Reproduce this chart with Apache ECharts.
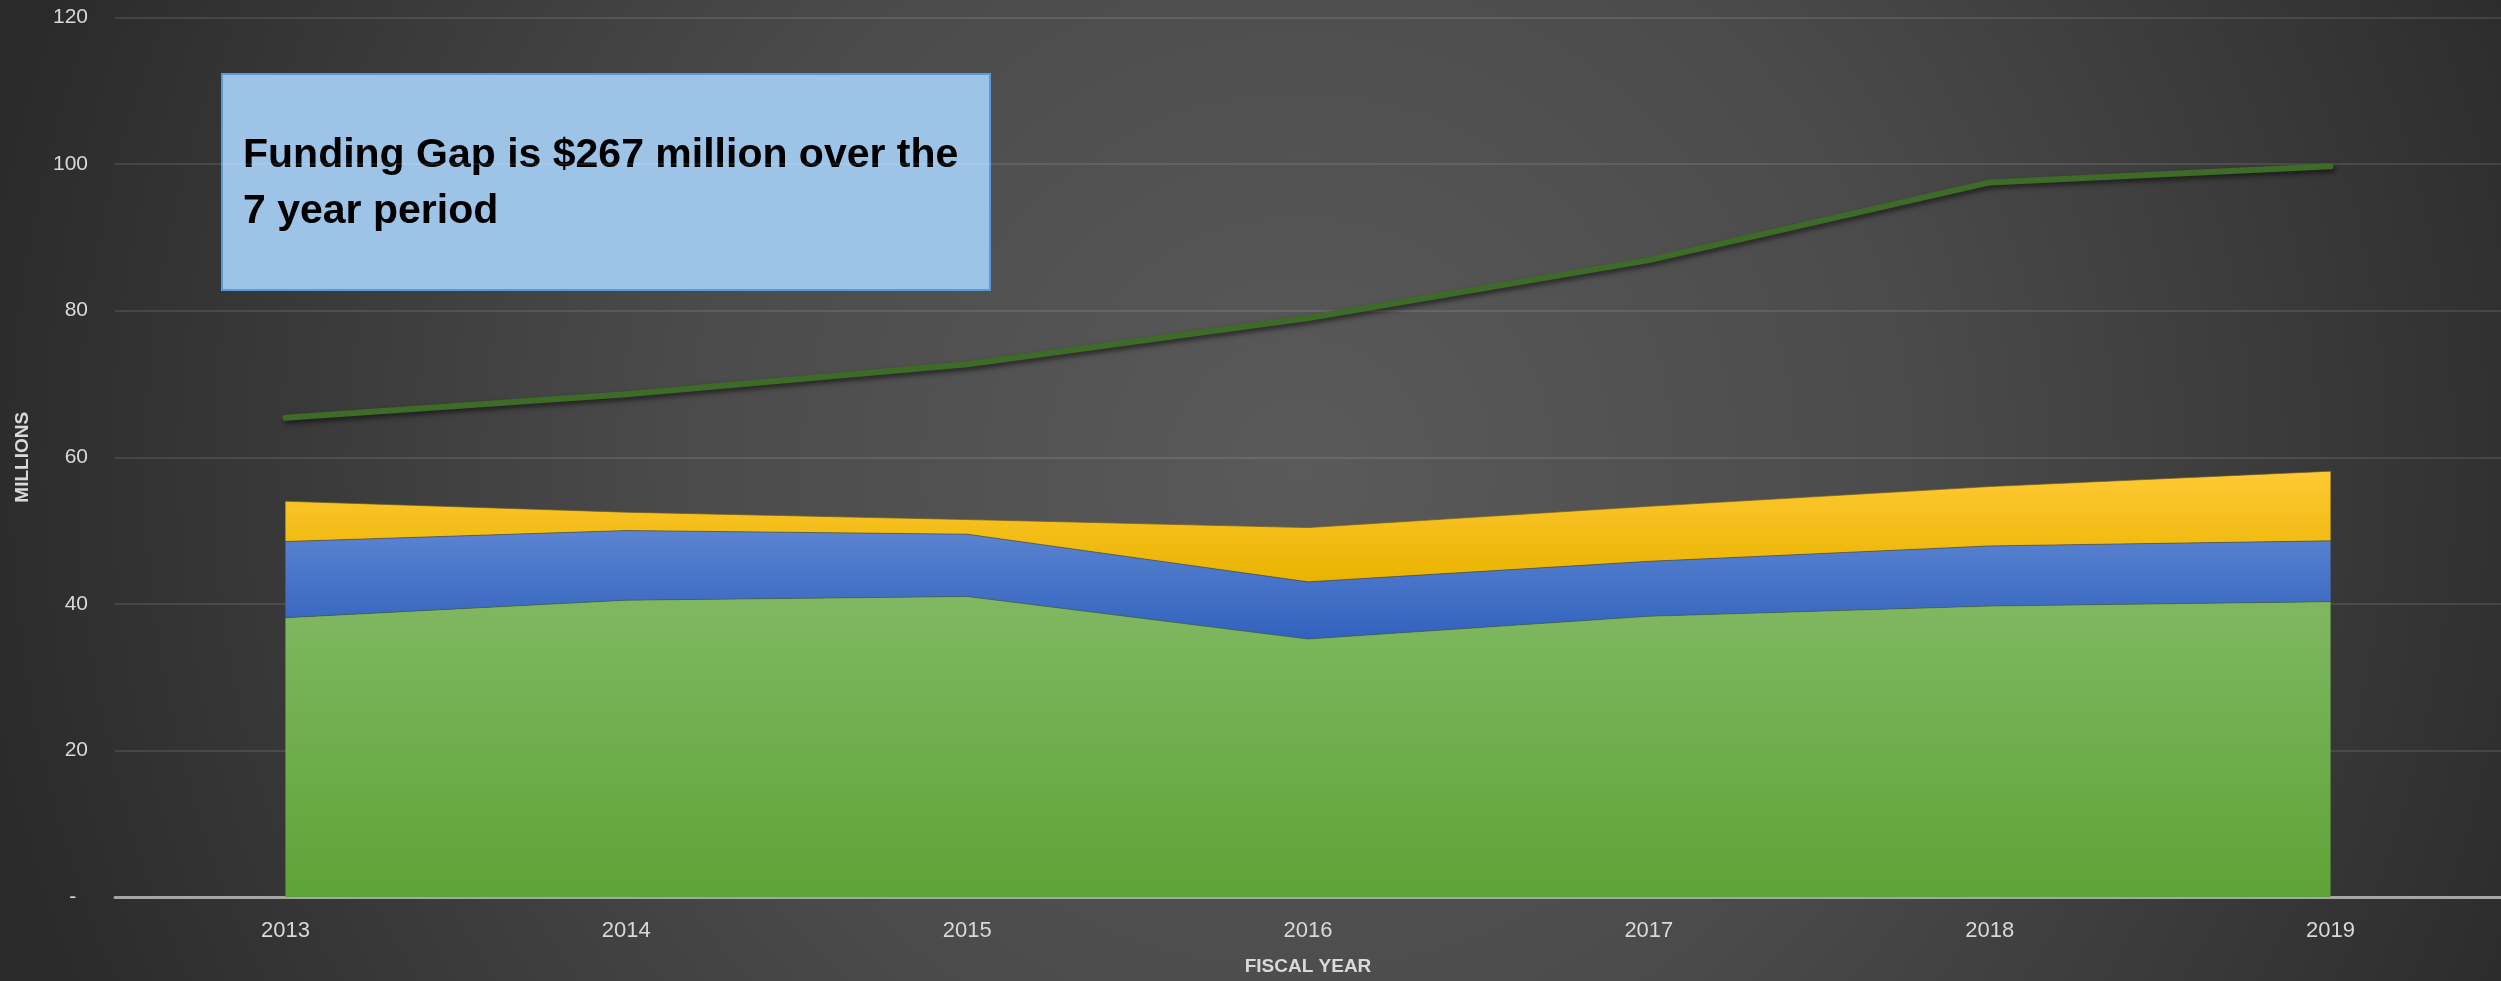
<!DOCTYPE html>
<html>
<head>
<meta charset="utf-8">
<script src="https://cdn.jsdelivr.net/npm/echarts@6/dist/echarts.min.js"></script>
<style>
html,body{margin:0;padding:0;background:#2b2b2b;}
#c{width:2501px;height:981px;}
</style>
</head>
<body>
<div id="c"></div>
<script>
var years = ['2013','2014','2015','2016','2017','2018','2019'];
var sourceGreen = [38.1, 40.5, 41.0, 35.2, 38.3, 39.7, 40.3];
var sourceBlue = [10.4, 9.5, 8.5, 7.8, 7.5, 8.2, 8.3];
var sourceYellow = [5.5, 2.5, 2.0, 7.4, 7.5, 8.1, 9.5];
var need = [65.4, 68.6, 72.7, 79.0, 86.9, 97.5, 99.7];
var yTicks = {min: 0, max: 120, interval: 20};
var boxText = 'Funding Gap is $267 million over the\n7 year period';

var chart = echarts.init(document.getElementById('c'), null, {renderer: 'canvas'});

function vgrad(top, bottom) {
  return new echarts.graphic.LinearGradient(0, 0, 0, 1, [
    {offset: 0, color: top}, {offset: 1, color: bottom}
  ]);
}

var labelColor = '#d9d9d9';
var font = '"Liberation Sans", Arial, sans-serif';

chart.setOption({
  animation: false,
  backgroundColor: '#2b2b2b',
  graphic: [
    {
      type: 'rect', z: -100, silent: true,
      shape: {x: 0, y: 0, width: 2501, height: 981},
      style: {
        fill: new echarts.graphic.RadialGradient(1300, 470, 1350, [
          {offset: 0, color: '#5a5a5a'},
          {offset: 0.45, color: '#4b4b4b'},
          {offset: 1, color: '#2a2a2a'}
        ], true)
      }
    },
    {
      type: 'group', z: 100,
      children: [
        {
          type: 'rect',
          shape: {x: 222, y: 74, width: 768, height: 216},
          style: {fill: '#9dc3e6', stroke: '#5b9bd5', lineWidth: 2}
        },
        {
          type: 'text',
          x: 243, y: 128,
          style: {
            text: boxText,
            fill: '#000000',
            font: 'bold 41px "Liberation Sans", Arial, sans-serif',
            lineHeight: 56,
            verticalAlign: 'top',
            align: 'left'
          }
        }
      ]
    }
  ],
  grid: {left: 115, top: 17.5, width: 2389, height: 883, containLabel: false},
  xAxis: {
    type: 'category',
    data: years,
    boundaryGap: true,
    name: 'FISCAL YEAR',
    nameLocation: 'middle',
    nameGap: 60,
    nameTextStyle: {color: labelColor, fontSize: 19, fontWeight: 'bold', fontFamily: font},
    axisLine: {show: true, lineStyle: {color: '#a6a6a6', width: 3}},
    axisTick: {show: false},
    axisLabel: {color: labelColor, fontSize: 22, fontFamily: font, margin: 23},
    splitLine: {show: false}
  },
  yAxis: {
    type: 'value',
    min: yTicks.min, max: yTicks.max, interval: yTicks.interval,
    name: 'MILLIONS',
    nameLocation: 'middle',
    nameGap: 83,
    nameTextStyle: {color: labelColor, fontSize: 19, fontWeight: 'bold', fontFamily: font},
    axisLine: {show: false},
    axisTick: {show: false},
    axisLabel: {
      color: labelColor, fontSize: 21, fontFamily: font, margin: 27,
      formatter: function (v) { return v === 0 ? '-  ' : String(v); }
    },
    splitLine: {show: true, lineStyle: {color: 'rgba(255,255,255,0.1)', width: 2}}
  },
  series: [
    {
      name: 'Source A', type: 'line', stack: 'total', data: sourceGreen,
      symbol: 'none', smooth: false,
      lineStyle: {width: 1, color: 'rgba(70,90,50,0.6)'},
      areaStyle: {opacity: 1, color: vgrad('#80b862', '#5ea337')},
      z: 2
    },
    {
      name: 'Source B', type: 'line', stack: 'total', data: sourceBlue,
      symbol: 'none', smooth: false,
      lineStyle: {width: 1, color: 'rgba(50,60,90,0.6)'},
      areaStyle: {opacity: 1, color: vgrad('#5b84d0', '#3162be')},
      z: 2
    },
    {
      name: 'Source C', type: 'line', stack: 'total', data: sourceYellow,
      symbol: 'none', smooth: false,
      lineStyle: {width: 1, color: 'rgba(110,90,30,0.7)'},
      areaStyle: {opacity: 1, color: vgrad('#ffc935', '#e9b400')},
      z: 2
    },
    {
      name: 'Funding Need', type: 'line', data: need,
      symbol: 'none', smooth: false,
      lineStyle: {
        width: 6, color: '#3e6b27', cap: 'round', join: 'round',
        shadowColor: 'rgba(0,0,0,0.55)', shadowBlur: 5, shadowOffsetX: 2, shadowOffsetY: 3
      },
      z: 3
    }
  ]
});
</script>
</body>
</html>
